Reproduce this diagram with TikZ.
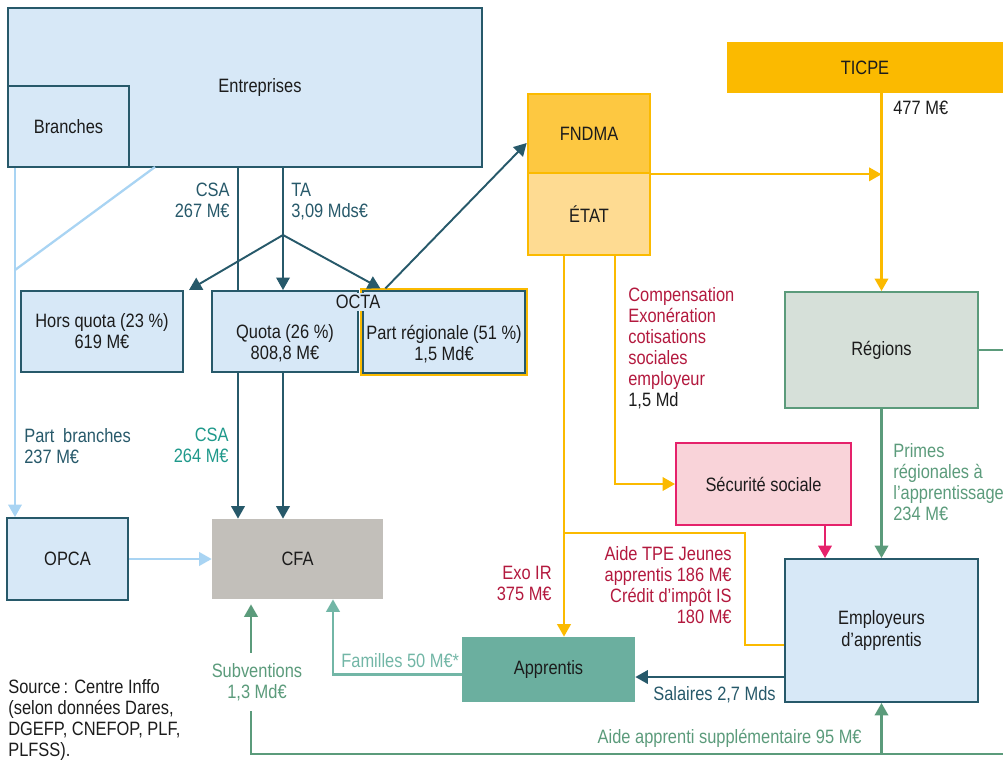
\documentclass[tikz,border=0pt]{standalone}
\usepackage{fontspec}
\setmainfont{Liberation Sans}[FakeStretch=0.85]
\usetikzlibrary{positioning,arrows.meta}
\definecolor{darkteal}{HTML}{27596A}
\definecolor{boxblue}{HTML}{D7E8F7}
\definecolor{paleblue}{HTML}{A9D4F3}
\definecolor{csateal}{HTML}{1F998B}
\definecolor{crimson}{HTML}{B3193E}
\definecolor{amber}{HTML}{FBBA00}
\definecolor{fndmafill}{HTML}{FDC841}
\definecolor{etatfill}{HTML}{FEDB92}
\definecolor{secufill}{HTML}{F9D3D9}
\definecolor{secured}{HTML}{E5226B}
\definecolor{regfill}{HTML}{D6E0D9}
\definecolor{greenline}{HTML}{5B9B7B}
\definecolor{apprgreen}{HTML}{6BAF9F}
\definecolor{famteal}{HTML}{72B6A6}
\definecolor{cfagray}{HTML}{C2BFBA}
\definecolor{inkblack}{HTML}{1C1C1C}
\tikzset{
  flowtip/.style={-{Triangle[length=2.5mm,width=2.7mm]}},
  tealline/.style={draw=darkteal, line width=1.1pt},
  tealflow/.style={tealline, flowtip},
  paleline/.style={draw=paleblue, line width=1.3pt},
  paleflow/.style={paleline, flowtip},
  amberline/.style={draw=amber, line width=1.3pt},
  amberflow/.style={amberline, flowtip},
  greenline/.style={draw=greenline, line width=1.3pt},
  greenflow/.style={greenline, flowtip},
  famflow/.style={draw=famteal, line width=1.3pt, flowtip},
  secuflow/.style={draw=secured, line width=1.3pt, flowtip},
  bluebox/.style={draw=darkteal, line width=1.1pt, fill=boxblue, align=center, inner sep=0pt},
  flatbox/.style={align=center, inner sep=0pt},
  statebox/.style={draw=amber, line width=1.5pt, align=center, inner sep=0pt},
  secubox/.style={draw=secured, line width=1.1pt, fill=secufill, align=center, inner sep=0pt},
  regbox/.style={draw=greenline, line width=1.1pt, fill=regfill, align=center, inner sep=0pt},
  lbl/.style={inner sep=0pt}
}
\begin{document}
\begin{tikzpicture}[x=0.2mm, y=-0.2mm, every node/.style={font=\fontsize{11}{12}\selectfont, text=inkblack}]
  \useasboundingbox (0,0) rectangle (1003,760);
  % boxes
  \node[bluebox, minimum width=9.48cm, minimum height=3.18cm, label={[xshift=0.3cm]center:Entreprises}] (ent) at (245,87.5) {};
  \node[bluebox, minimum width=2.42cm, minimum height=1.62cm] (branches) at (68.5,126.5) {Branches};
  \node[bluebox, minimum width=3.24cm, minimum height=1.62cm] (horsquota) at (102,331.5) {Hors quota (23~\%)\\619 M€};
  \node[bluebox, minimum width=2.92cm, minimum height=1.62cm, label={[yshift=-0.24cm, align=center]center:{Quota (26~\%)\\808,8 M€}}] (quota) at (285,331.5) {};
  \node[bluebox, draw=amber, line width=1.8pt, minimum width=3.28cm, minimum height=1.68cm, label={[yshift=-0.24cm, align=center]center:{Part régionale (51~\%)\\1,5 Md€}}] (preg) at (444,332) {};
  \draw[darkteal, line width=1pt] ([xshift=0.05cm, yshift=-0.05cm]preg.north west) rectangle ([xshift=-0.05cm, yshift=0.05cm]preg.south east);
  \node[fill=boxblue, inner sep=1pt] (octa) at (358,302) {OCTA};
  \node[bluebox, minimum width=2.42cm, minimum height=1.64cm] (opca) at (67.5,559) {OPCA};
  \node[flatbox, fill=cfagray, minimum width=3.42cm, minimum height=1.6cm] (cfa) at (297.5,559) {CFA};
  \node[flatbox, fill=apprgreen, minimum width=3.46cm, minimum height=1.3cm] (apprentis) at (548.5,669.5) {Apprentis};
  \node[bluebox, minimum width=3.86cm, minimum height=2.86cm] (employeurs) at (881.5,630.5) {Employeurs\\d’apprentis};
  \node[secubox, minimum width=3.5cm, minimum height=1.64cm] (secu) at (763.5,484) {Sécurité sociale};
  \node[regbox, minimum width=3.86cm, minimum height=2.32cm] (regions) at (881.5,350) {Régions};
  \node[flatbox, fill=amber, minimum width=5.52cm, minimum height=1.02cm] (ticpe) at (865,67.5) {TICPE};
  \node[statebox, fill=fndmafill, minimum width=2.44cm, minimum height=1.58cm] (fndma) at (589,133.5) {FNDMA};
  \node[statebox, fill=etatfill, minimum width=2.44cm, minimum height=1.64cm] (etat) at (589,214) {ÉTAT};
  % bends and free ends
  \coordinate (csa) at (238,0);
  \coordinate (tasplit) at (283,235);
  \coordinate (pbx) at (15,0);
  \coordinate (diagtop) at (155,167);
  \coordinate (diagfoot) at (15,270);
  \coordinate (compx) at (615,0);
  \coordinate (exox) at (564,0);
  \coordinate (aidebr) at (564,533);
  \coordinate (aidebend) at (745,645);
  \coordinate (secux) at (825,0);
  \coordinate (subv) at (251,754);
  \coordinate (famx) at (333,0);
  \coordinate (botright) at (1003,754);
  % branches and OPCA
  \draw[paleflow] (pbx |- ent.south) -- (pbx |- opca.north);
  \draw[paleline] (diagtop) -- (diagfoot);
  \draw[paleflow] (opca) -- (cfa);
  % CSA and TA
  \draw[tealline] (csa |- ent.south) -- (csa |- quota.north);
  \draw[tealflow] (csa |- quota.south) -- (csa |- cfa.north);
  \draw[tealline] (ent.south -| tasplit) -- (tasplit);
  \draw[tealflow] (tasplit) -- (tasplit |- quota.north);
  \draw[tealflow] (tasplit) -- ([xshift=0.1cm]horsquota.north east);
  \draw[tealflow] (tasplit) -- ([xshift=0.4cm]preg.north west);
  \draw[tealflow] ([xshift=0.5cm]preg.north west) -- ([yshift=-0.19cm]fndma.west);
  \draw[tealflow] (tasplit |- quota.south) -- (tasplit |- cfa.north);
  % state money
  \draw[amberflow] (fndma.south east) -- (fndma.south east -| regions.north);
  \draw[amberflow] (ticpe.south -| regions.north) -- (regions.north);
  \draw[amberflow] (etat.south -| compx) |- (secu.west);
  \draw[amberflow] (etat.south -| exox) -- (exox |- apprentis.north);
  \draw[amberline] (aidebr) -| (aidebend) -- (aidebend -| employeurs.west);
  \draw[secuflow] (secux |- secu.south) -- (secux |- employeurs.north);
  % regions
  \draw[greenflow] (regions.south) -- (employeurs.north);
  \draw[greenline] (regions.east) -- (regions.east -| botright);
  \draw[greenflow, shorten >=0.1cm] (botright) -- (subv) -- (subv |- cfa.south);
  \draw[greenflow] (employeurs.south |- subv) -- (employeurs.south);
  % apprentis
  \draw[famflow] ([yshift=-0.1cm]apprentis.west) -| (famx |- cfa.south);
  \draw[tealflow] ([yshift=-0.93cm]employeurs.west) -- ([yshift=-0.93cm]employeurs.west -| apprentis.east);
  % labels
  \node[lbl, align=right, anchor=north east, text=darkteal] (csalbl) at (230,183) {CSA\\267 M€};
  \node[lbl, align=left, anchor=north west, text=darkteal] (talbl) at (291,183) {TA\\3,09 Mds€};
  \node[lbl, align=left, anchor=north west, text=darkteal] (pblbl) at (24,428) {Part\hspace{0.45em}branches\\237 M€};
  \node[lbl, align=right, anchor=north east, text=csateal] (csacfa) at (229,428) {CSA\\264 M€};
  \node[lbl, align=left, anchor=north west, text=crimson] (complbl) at (628,287) {Compensation\\Exonération\\cotisations\\sociales\\employeur\\\textcolor{inkblack}{1,5 Md}};
  \node[lbl, align=right, anchor=north east, text=crimson] (exolbl) at (552,566) {Exo IR\\375 M€};
  \node[lbl, align=right, anchor=north east, text=crimson] (aidelbl) at (732,546) {Aide TPE Jeunes\\apprentis 186 M€\\Crédit d’impôt IS\\180 M€};
  \node[lbl, align=left, anchor=north west, text=greenline] (primlbl) at (893,443) {Primes\\régionales à\\l’apprentissage\\234 M€};
  \node[lbl, anchor=north west] (ticpelbl) at (893,101) {477 M€};
  \node[lbl, anchor=base west, text=famteal] (famlbl) at (341,667) {Familles 50 M€*};
  \node[lbl, anchor=base west, text=darkteal] (sallbl) at (653,700) {Salaires 2,7 Mds};
  \node[lbl, anchor=base east, text=greenline] (supplbl) at (862,743) {Aide apprenti supplémentaire 95 M€};
  \node[fill=white, inner xsep=2pt, inner ysep=0.2cm, align=center, text=greenline] (subvlbl) at (257,682) {Subventions\\1,3 Md€};
  \node[lbl, align=left, anchor=north west] (source) at (8,679) {Source\,: Centre Inffo\\(selon données Dares,\\DGEFP, CNEFOP, PLF,\\PLFSS).};
\end{tikzpicture}
\end{document}
